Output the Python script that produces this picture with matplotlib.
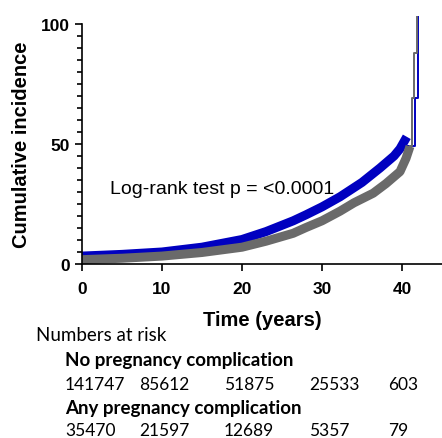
import matplotlib
matplotlib.use("Agg")
import matplotlib.pyplot as plt
from matplotlib.ticker import MultipleLocator

# Cumulative incidence curves
timeAny = [0, 5, 10, 15, 20, 23, 26.4, 28, 30, 32.25, 35, 37.25, 39, 39.75, 40.6]
incAny = [3.3, 4.0, 5.0, 7.0, 10.2, 13.5, 18, 20.5, 23.8, 28, 34, 40, 45, 48, 53]
timeAnyTail = [40.6, 41.65, 41.95, 41.95]
incAnyTail = [49, 69, 103, 103]

timeNone = [0, 5, 10, 15, 20, 23, 26.4, 28, 30, 32.25, 34, 36.4, 38, 39.75, 40.5, 41.0]
incNone = [1.8, 2.4, 3.3, 4.8, 7.0, 9.5, 12.8, 15.2, 18, 22, 25.5, 29.5, 33.5, 38.5, 44, 49]
timeNoneTail = [41.0, 41.25, 41.55, 41.85, 41.85]
incNoneTail = [49, 69, 88, 103, 103]

xTicks = [0, 10, 20, 30, 40]
yTicks = [0, 50, 100]

# Numbers at risk table
riskNone = ["141747", "85612", "51875", "25533", "603"]
riskAny = ["35470", "21597", "12689", "5357", "79"]
riskX = [65, 139, 224, 309, 388]

W, H = 442, 439
fig = plt.figure(figsize=(W / 100, H / 100), dpi=100)
ax = fig.add_axes([82 / W, 1 - 265 / H, 1 - 82 / W, (265 - 25) / H])

blue = "#0000c0"
grey = "#6a6a6a"
ax.plot(timeAny, incAny, color=blue, lw=6.5, solid_capstyle="butt", clip_on=False)
ax.plot(timeAnyTail, incAnyTail, color=blue, lw=1.4, drawstyle="steps-post", clip_on=False)
ax.plot(timeNone, incNone, color=grey, lw=6.5, solid_capstyle="butt", clip_on=False)
ax.plot(timeNoneTail, incNoneTail, color=grey, lw=1.4, drawstyle="steps-post", clip_on=False)

ax.set_xlim(0, 45)
ax.set_ylim(0, 100)
ax.set_xticks(xTicks)
ax.set_yticks(yTicks)
ax.yaxis.set_minor_locator(MultipleLocator(5))
ax.spines["top"].set_visible(False)
ax.spines["right"].set_visible(False)
for s in ["left", "bottom"]:
    ax.spines[s].set_linewidth(1.2)
ax.tick_params(axis="both", which="major", length=5, width=1.2, labelsize=12.5)
ax.tick_params(axis="y", which="major", pad=3.5)
ax.tick_params(axis="x", which="major", pad=7)
ax.tick_params(axis="y", which="minor", length=3.5, width=1.2)
for lab in ax.get_xticklabels() + ax.get_yticklabels():
    lab.set_fontfamily("Liberation Sans")
    lab.set_fontweight("bold")

ax.set_ylabel("Cumulative incidence", fontsize=14.5, fontweight="bold", family="Liberation Sans", labelpad=7)
ax.set_xlabel("Time (years)", fontsize=14.5, fontweight="bold", family="Liberation Sans", labelpad=10)

ax.text(3.5, 31.5, "Log-rank test p = <0.0001", fontsize=14, family="Liberation Sans", va="center", ha="left")

tfont = "Lato"
fig.text(36 / W, 1 - 336 / H, "Numbers at risk", fontsize=13.5, family=tfont, va="center")
fig.text(65 / W, 1 - 361 / H, "No pregnancy complication", fontsize=13.5, family=tfont, fontweight="bold", va="center")
for x, n in zip(riskX, riskNone):
    fig.text(x / W, 1 - 385 / H, n, fontsize=12.5, family=tfont, va="center")
fig.text(65 / W, 1 - 409 / H, "Any pregnancy complication", fontsize=13.5, family=tfont, fontweight="bold", va="center")
for x, n in zip(riskX, riskAny):
    fig.text(x / W, 1 - 431 / H, n, fontsize=12.5, family=tfont, va="center")

fig.savefig("out.png", dpi=100)
